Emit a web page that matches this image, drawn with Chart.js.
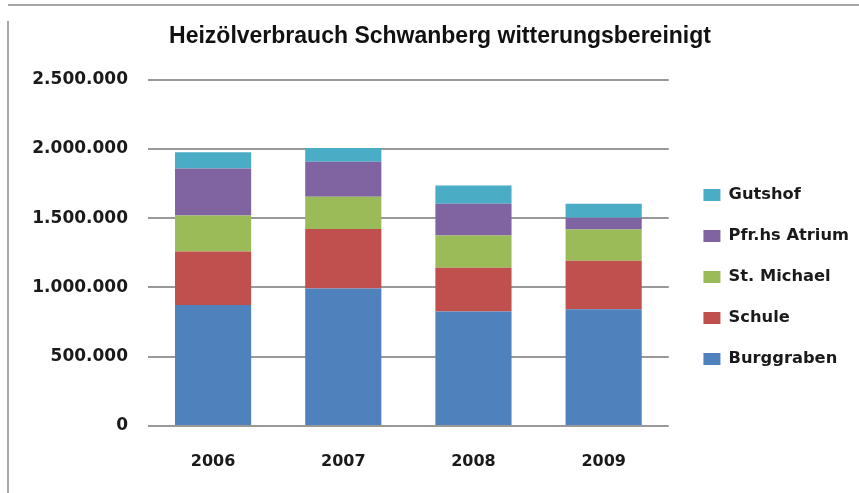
<!DOCTYPE html>
<html>
<head>
<meta charset="utf-8">
<script src="https://cdn.jsdelivr.net/npm/chart.js@4"></script>
<style>
  html, body { margin: 0; padding: 0; background: #fff; }
  #wrap { position: relative; width: 859px; height: 493px; overflow: hidden; }
  #linieOben { position: absolute; left: 8px; top: 4px; width: 851px; height: 2px; background: #a8a8a8; }
  #linieLinks { position: absolute; left: 7px; top: 21px; width: 2px; height: 472px; background: #a8a8a8; }
  canvas { position: absolute; left: 0; top: 0; }
</style>
</head>
<body>
<div id="wrap">
  <canvas id="grafikHeizoel" width="859" height="493"></canvas>
  <div id="linieOben"></div>
  <div id="linieLinks"></div>
</div>
<script>
// Daten (Liter Heizöl)
const jahre = ['2006', '2007', '2008', '2009'];
const burggraben = [874000, 992000, 826000, 843000];
const schule = [385000, 429000, 316000, 349000];
const stMichael = [261000, 234000, 233000, 226000];
const pfarrhaus = [339000, 253000, 229000, 85000];
const gutshof = [116000, 98000, 132000, 101000];
const yTicks = [0, 500000, 1000000, 1500000, 2000000, 2500000];

function formatDe(v) {
    return String(v).replace(/\B(?=(\d{3})+(?!\d))/g, '.');
}

// Legende etwas nach rechts schieben (wie im Excel-Original)
const legendeVersatz = {
    id: 'legendeVersatz',
    afterLayout: function (chart) {
        if (chart.legend) {
            chart.legend.left += 10;
            chart.legend.right += 10;
        }
    }
};

document.addEventListener('DOMContentLoaded', function () {
    const canvas = document.getElementById('grafikHeizoel');
    const ctx = canvas.getContext('2d');

    const schrift = "'DejaVu Sans', sans-serif";

    new Chart(ctx, {
        type: 'bar',
        data: {
            labels: jahre,
            datasets: [
                { label: 'Burggraben', data: burggraben, backgroundColor: '#4f81bd' },
                { label: 'Schule', data: schule, backgroundColor: '#c0504d' },
                { label: 'St. Michael', data: stMichael, backgroundColor: '#9bbb59' },
                { label: 'Pfr.hs Atrium', data: pfarrhaus, backgroundColor: '#8064a2' },
                { label: 'Gutshof', data: gutshof, backgroundColor: '#4bacc6' }
            ]
        },
        plugins: [legendeVersatz],
        options: {
            responsive: false,
            animation: false,
            layout: { padding: { left: 31, right: 10, top: 0, bottom: 0 } },
            datasets: {
                bar: { categoryPercentage: 1, barPercentage: 0.585 }
            },
            scales: {
                x: {
                    stacked: true,
                    afterFit: function (scale) { scale.height = 67; },
                    grid: { display: false, drawTicks: false },
                    border: { display: false },
                    ticks: {
                        padding: 26,
                        color: '#1a1a1a',
                        font: { family: schrift, size: 16, weight: 'bold' }
                    }
                },
                y: {
                    stacked: true,
                    min: 0,
                    max: 2500000,
                    afterBuildTicks: function (scale) {
                        scale.ticks = yTicks.map(function (v) { return { value: v }; });
                    },
                    afterFit: function (scale) { scale.width = 117; },
                    grid: { color: '#999999', lineWidth: 2, drawTicks: false },
                    border: { display: false },
                    ticks: {
                        padding: 20,
                        color: '#1a1a1a',
                        font: { family: schrift, size: 17, weight: 'bold' },
                        callback: function (v) { return formatDe(v); }
                    }
                }
            },
            plugins: {
                title: {
                    display: true,
                    text: 'Heizölverbrauch Schwanberg witterungsbereinigt',
                    color: '#111',
                    font: { family: "'Liberation Sans', Arial, sans-serif", size: 23, weight: 'bold' },
                    padding: { top: 23, bottom: 29 }
                },
                legend: {
                    position: 'right',
                    reverse: true,
                    title: {
                        display: true,
                        text: '',
                        font: { size: 10 },
                        padding: { top: 49, bottom: 0 }
                    },
                    labels: {
                        boxWidth: 17,
                        boxHeight: 12,
                        padding: 24.7,
                        color: '#1a1a1a',
                        font: { family: schrift, size: 16.3, weight: 'bold' }
                    }
                },
                tooltip: { enabled: false }
            }
        }
    });
});
</script>
</body>
</html>
